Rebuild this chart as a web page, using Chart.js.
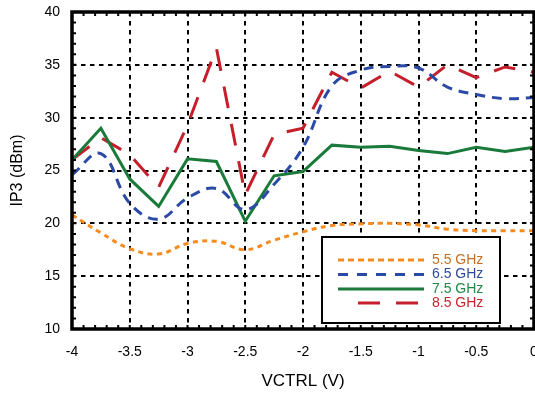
<!DOCTYPE html>
<html><head><meta charset="utf-8">
<script src="https://cdn.jsdelivr.net/npm/chart.js@4/dist/chart.umd.min.js"></script>
<style>html,body{margin:0;padding:0;background:#fff;overflow:hidden}#wrap{width:535px;height:393px;position:relative}</style>
</head><body><div id="wrap"><canvas id="c"></canvas></div>
<script>
// ---- data ----
const vctrl = [-4, -3.75, -3.5, -3.25, -3, -2.75, -2.5, -2.25, -2, -1.75, -1.5, -1.25, -1, -0.75, -0.5, -0.25, 0];
const ip3_55 = [20.8, 19.1, 17.6, 17.1, 18.1, 18.3, 17.5, 18.4, 19.2, 19.8, 19.95, 20.0, 19.85, 19.45, 19.3, 19.3, 19.3];
const ip3_65 = [24.6, 26.6, 21.9, 20.4, 22.4, 23.3, 21.3, 23.7, 27.2, 33.0, 34.5, 34.85, 34.7, 32.9, 32.2, 31.8, 31.9];
const ip3_75 = [26.0, 29.0, 24.2, 21.6, 26.1, 25.85, 20.2, 24.5, 24.9, 27.4, 27.2, 27.3, 26.9, 26.6, 27.2, 26.8, 27.2];
const ip3_85 = [26.0, 28.1, 26.5, 23.4, 29.3, 36.6, 22.7, 28.4, 29.0, 34.3, 32.8, 34.4, 32.9, 35.0, 33.8, 34.8, 34.3];
const seriesLabels = ['5.5 GHz', '6.5 GHz', '7.5 GHz', '8.5 GHz'];
const xTickValues = [-4, -3.5, -3, -2.5, -2, -1.5, -1, -0.5, 0];
const xTickLabels = ['-4', '-3.5', '-3', '-2.5', '-2', '-1.5', '-1', '-0.5', '0'];
const yTickValues = [10, 15, 20, 25, 30, 35, 40];
const yTickLabels = ['10', '15', '20', '25', '30', '35', '40'];
const xTitle = 'VCTRL (V)';
const yTitle = 'IP3 (dBm)';

// ---- styles ----
const lineColors = ['#f68b1f', '#2b4aa6', '#1a7a3a', '#c51f2b'];
const textColors = ['#c0702a', '#2e4a9c', '#1f8a45', '#c9242f'];
const dashes = [[5, 4.5], [10, 7], [], [22, 16]];
const legendDashes = [[6, 4], [10, 9], [], [22, 16]];
const legendStart = [338, 338, 338, 358];
const tensions = [0.4, 0.4, 0, 0];
const seriesData = [ip3_55, ip3_65, ip3_75, ip3_85];

Chart.defaults.font.family = '"Liberation Sans", Arial, Helvetica, sans-serif';
Chart.defaults.color = '#000';

const datasets = seriesData.map((vals, i) => ({
  label: seriesLabels[i],
  data: vctrl.map((x, k) => ({x: x, y: vals[k]})),
  borderColor: lineColors[i],
  backgroundColor: lineColors[i],
  borderWidth: 3,
  borderDash: dashes[i],
  borderCapStyle: 'butt',
  pointRadius: 0,
  tension: tensions[i],
  fill: false
}));

const framePlugin = {
  id: 'frame',
  afterDatasetsDraw(chart) {
    const {ctx, chartArea: a, scales: {x, y}} = chart;
    ctx.save();
    ctx.strokeStyle = '#000';
    ctx.lineWidth = 2;
    ctx.setLineDash([]);
    ctx.beginPath();
    for (let k = -40; k <= 0; k++) {
      const px = x.getPixelForValue(k / 10);
      ctx.moveTo(px, a.bottom); ctx.lineTo(px, a.bottom - 4);
      ctx.moveTo(px, a.top); ctx.lineTo(px, a.top + 4);
    }
    for (let v = 10; v <= 40; v++) {
      const py = y.getPixelForValue(v);
      ctx.moveTo(a.left, py); ctx.lineTo(a.left + 4, py);
      ctx.moveTo(a.right, py); ctx.lineTo(a.right - 4, py);
    }
    ctx.stroke();
    ctx.lineWidth = 3.5;
    ctx.strokeRect(a.left, a.top, a.right - a.left, a.bottom - a.top);

    // legend box
    const bx = 322, by = 237, bw = 178, bh = 86;
    ctx.fillStyle = '#fff';
    ctx.fillRect(bx, by, bw, bh);
    ctx.lineWidth = 2;
    ctx.strokeRect(bx, by, bw, bh);
    const rowY = [260, 274.5, 289, 303];
    ctx.font = '14px "Liberation Sans", Arial, sans-serif';
    ctx.textBaseline = 'middle';
    ctx.textAlign = 'left';
    chart.data.datasets.forEach((ds, i) => {
      ctx.strokeStyle = ds.borderColor;
      ctx.lineWidth = 3;
      ctx.setLineDash(legendDashes[i]);
      ctx.lineDashOffset = 0;
      ctx.beginPath();
      ctx.moveTo(legendStart[i], rowY[i]); ctx.lineTo(424, rowY[i]);
      ctx.stroke();
      ctx.setLineDash([]);
      ctx.fillStyle = textColors[i];
      ctx.fillText(ds.label, 432, rowY[i]);
    });
    ctx.restore();
  }
};

new Chart(document.getElementById('c'), {
  type: 'line',
  data: {datasets},
  options: {
    responsive: true,
    maintainAspectRatio: false,
    animation: false,
    layout: {padding: {top: 12, right: 1, left: 0, bottom: 0}},
    plugins: {legend: {display: false}, tooltip: {enabled: false}},
    scales: {
      x: {
        type: 'linear', min: -4, max: 0,
        afterBuildTicks(s) { s.ticks = xTickValues.map(v => ({value: v})); },
        afterFit(s) { s.height = 64; s.paddingLeft = 0; s.paddingRight = 0; },
        ticks: {
          autoSkip: false, maxRotation: 0, padding: 15,
          font: {size: 14}, color: '#000',
          callback(v) { const i = xTickValues.indexOf(v); return i >= 0 ? xTickLabels[i] : ''; }
        },
        grid: {color: '#000', lineWidth: 2, drawTicks: false},
        border: {display: false, dash: [4.5, 4.5]},
        title: {display: true, text: xTitle, font: {size: 17}, color: '#000', padding: {top: 0, bottom: 1}}
      },
      y: {
        type: 'linear', min: 10, max: 40,
        afterBuildTicks(s) { s.ticks = yTickValues.map(v => ({value: v})); },
        afterFit(s) { s.width = 72; s.paddingTop = 0; s.paddingBottom = 0; },
        ticks: {
          padding: 12, font: {size: 14}, color: '#000',
          callback(v) { const i = yTickValues.indexOf(v); return i >= 0 ? yTickLabels[i] : ''; }
        },
        grid: {color: '#000', lineWidth: 2, drawTicks: false},
        border: {display: false, dash: [4.5, 4.5]},
        title: {display: true, text: yTitle, font: {size: 16}, color: '#000', padding: {top: 8, bottom: 0}}
      }
    }
  },
  plugins: [framePlugin]
});
</script>
</body></html>
